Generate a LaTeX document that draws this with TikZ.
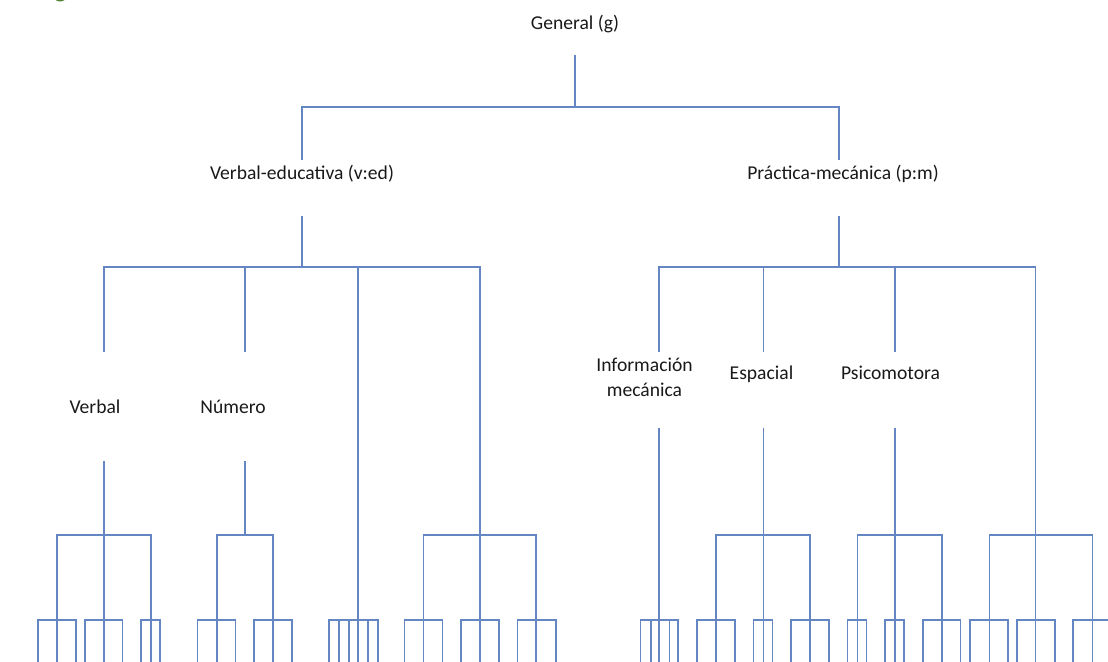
\documentclass[tikz,border=0pt]{standalone}
\usepackage{fontspec}
\setmainfont{Carlito}
\definecolor{linkblue}{RGB}{100,135,195}
\definecolor{labelgray}{RGB}{25,25,25}
\definecolor{headgreen}{RGB}{84,130,53}
\newcommand\fork[3]{\foreach \kid in {#3} \draw[link] (#1) |- (\kid |- #2) -- (\kid);}
\newcommand\leaves[2]{\foreach \lx [count=\li] in {#2} {\coordinate(#1-\li) at (\lx,665); \draw[link] (#1) |- (#1-\li |- lv4) -- (#1-\li);}}

\begin{document}
\begin{tikzpicture}[x=0.5pt,y=-0.5pt,
    link/.style={draw=linkblue,line width=0.65pt},
    lbl/.style={text=labelgray,font=\fontsize{9.8}{13}\selectfont,inner sep=0pt,anchor=base}]
    \useasboundingbox (0,0) rectangle (1108,662);
    % labels
    \node(heading)[lbl,text=headgreen,font=\fontsize{13}{15}\selectfont\bfseries] at (60.5,-2) {g};
    \node(gen)[lbl]      at (575,30)    {General (g)};
    \node(ved)[lbl]      at (302,180)   {Verbal-educativa (v:ed)};
    \node(pm)[lbl]       at (843,180)   {Práctica-mecánica (p:m)};
    \node(verbal)[lbl]   at (95,414)    {Verbal};
    \node(numero)[lbl]   at (233,414)   {Número};
    \node(info)[lbl,align=center] at (644.5,397) {Información\\mecánica};
    \node(espacial)[lbl] at (761.5,380) {Espacial};
    \node(psico)[lbl]    at (890.5,380) {Psicomotora};
    % line ends at the labels
    \coordinate(gen-o) at (575,55);
    \coordinate(ved-i) at (302,160);      \coordinate(ved-o) at (302,216);
    \coordinate(pm-i) at (839,160);       \coordinate(pm-o) at (839,216);
    \coordinate(verbal-i) at (104,352);   \coordinate(verbal-o) at (104,461);
    \coordinate(numero-i) at (245,352);   \coordinate(numero-o) at (245,461);
    \coordinate(info-i) at (659,352);     \coordinate(info-o) at (659,428);
    \coordinate(espacial-i) at (763.5,352); \coordinate(espacial-o) at (763.5,428);
    \coordinate(psico-i) at (895,352);    \coordinate(psico-o) at (895,428);
    \coordinate(m3) at (358,620); \coordinate(m4) at (480,535); \coordinate(n4) at (1035.5,535);
    % bar levels
    \foreach \n/\y in {lv1/107,lv2/267,lv3/535,lv4/620} \coordinate(\n) at (0,\y);
    \foreach \n/\x in {va/57,vb/104,vc/151,na/217,nb/273,ma/423.5,mb/480,mc/536,
        ea/716,eb/763.5,ec/810,pa/857.5,pb/895,pc/942,qa/989.5,qb/1035.5,qc/1092.5}
        \coordinate(\n) at (\x,620);
    % forks
    \fork{gen-o}{lv1}{ved-i,pm-i}
    \fork{ved-o}{lv2}{verbal-i,numero-i,m3,m4}
    \fork{pm-o}{lv2}{info-i,espacial-i,psico-i,n4}
    \fork{verbal-o}{lv3}{va,vb,vc}
    \fork{numero-o}{lv3}{na,nb}
    \fork{m4}{lv3}{ma,mb,mc}
    \fork{espacial-o}{lv3}{ea,eb,ec}
    \fork{psico-o}{lv3}{pa,pb,pc}
    \fork{n4}{lv3}{qa,qb,qc}
    % leaves
    \leaves{va}{38,57,76}         \leaves{vb}{85,104,122.5}     \leaves{vc}{141,151,160}
    \leaves{na}{197.5,217,235.5}  \leaves{nb}{254,273,292}
    \leaves{m3}{329,339,349,358,368,378}
    \leaves{ma}{404.5,423.5,442.5} \leaves{mb}{461,480,499}     \leaves{mc}{517.5,536,556}
    \leaves{info-o}{640.5,651,659,669.5,678}
    \leaves{ea}{697,716,735}      \leaves{eb}{753.5,763.5,772.5} \leaves{ec}{791,810,829}
    \leaves{pa}{847.5,857.5,866.5} \leaves{pb}{885,895,904}     \leaves{pc}{923,942,960.5}
    \leaves{qa}{970,989.5,1008}   \leaves{qb}{1017,1035.5,1055} \leaves{qc}{1073,1092.5,1112}
\end{tikzpicture}
\end{document}
